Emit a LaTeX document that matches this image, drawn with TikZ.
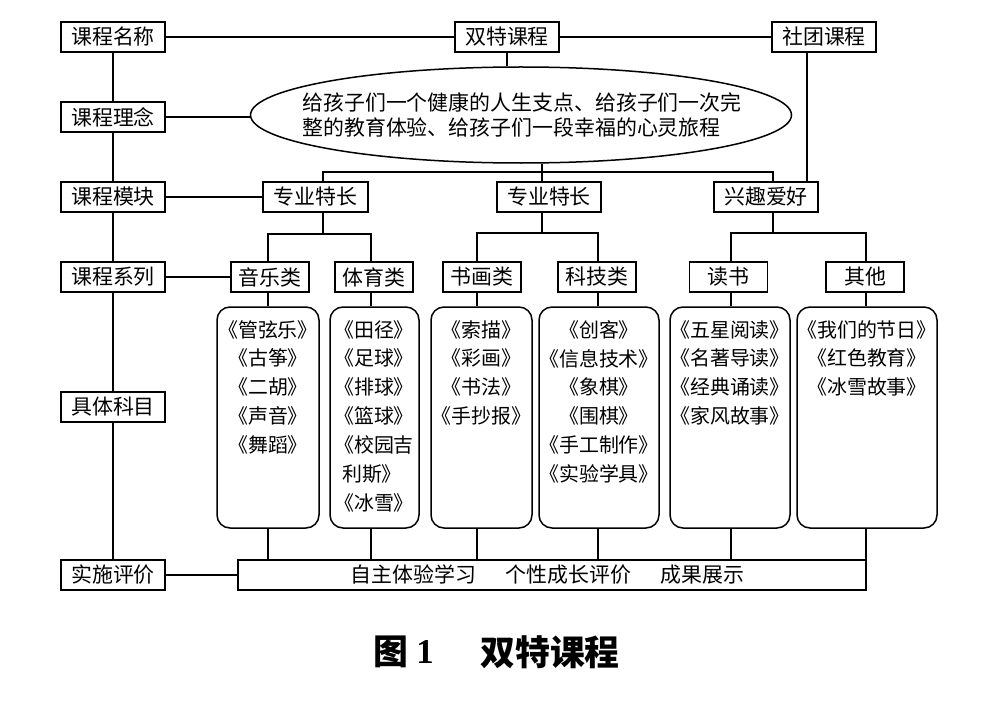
\documentclass[tikz,border=0pt]{standalone}
\usepackage{fontspec}
\setmainfont{Noto Sans CJK SC}
\newfontfamily\serifnum{Liberation Serif}
\usetikzlibrary{shapes.geometric}
\begin{document}
\begin{tikzpicture}[x=1bp,y=-1bp,
  box/.style={draw,line width=1.5bp,minimum width=104bp,minimum height=30bp,inner sep=0pt,font=\fontsize{21}{25}\selectfont},
  sbox/.style={box,minimum width=78bp},
  rbox/.style={draw,line width=1.5bp,rounded corners=13bp,minimum height=221bp,inner sep=0pt},
  btext/.style={inner sep=0pt,anchor=north,font=\fontsize{20}{29}\selectfont,align=center},
  conn/.style={line width=1.3bp},
  captext/.style={inner sep=0pt,font=\fontsize{35}{40}\selectfont\bfseries}]
\useasboundingbox[fill=white] (0,0) rectangle (981,704);
% left column
\node[box] (name) at (113,37) {课程名称};
\node[box] (ideal) at (113,117) {课程理念};
\node[box] (module) at (113,197) {课程模块};
\node[box] (series) at (113,277) {课程系列};
\node[box] (subj) at (113,407) {具体科目};
\node[box] (eval) at (113,575) {实施评价};
% top row
\node[box] (shuangte) at (507,37) {双特课程};
\node[box] (shetuan) at (824,37) {社团课程};
% ellipse
\node[draw,ellipse,line width=1.5bp,minimum width=541bp,minimum height=96bp,inner sep=0pt] (ell) at (521,115) {};
\node[inner sep=0pt,align=left,font=\fontsize{21}{25}\selectfont] (elltext) at (522,115) {给孩子们一个健康的人生支点、给孩子们一次完\\整的教育体验、给孩子们一段幸福的心灵旅程};
% modules
\node[box,minimum width=105bp] (zy1) at (315.5,197) {专业特长};
\node[box] (zy2) at (549,197) {专业特长};
\node[box] (xq) at (766,197) {兴趣爱好};
% series
\node[sbox] (yinyue) at (270,277) {音乐类};
\node[sbox] (tiyu) at (374,277) {体育类};
\node[sbox] (shuhua) at (482,277) {书画类};
\node[sbox] (keji) at (597,277) {科技类};
\node[sbox] (dushu) at (728.5,277) {读书};
\node[sbox] (qita) at (865,277) {其他};
% rounded boxes
\node[rbox,minimum width=102bp] (r1) at (268,417.5) {};
\node[rbox,minimum width=89bp] (r2) at (374.5,417.5) {};
\node[rbox,minimum width=101bp] (r3) at (481.5,417.5) {};
\node[rbox,minimum width=120bp] (r4) at (599,417.5) {};
\node[rbox,minimum width=120bp] (r5) at (730,417.5) {};
\node[rbox,minimum width=140bp] (r6) at (867,417.5) {};
\node[btext] (t1) at (268,320) {《管弦乐》\\《古筝》\\《二胡》\\《声音》\\《舞蹈》};
\node[btext,align=left] (t2) at (374,320) {《田径》\\《足球》\\《排球》\\《篮球》\\《校园吉\\\hspace*{0.4em}利斯》\\《冰雪》};
\node[btext] (t3) at (481.5,320) {《索描》\\《彩画》\\《书法》\\《手抄报》};
\node[btext] (t4) at (599,320) {《创客》\\《信息技术》\\《象棋》\\《围棋》\\《手工制作》\\《实验学具》};
\node[btext] (t5) at (730,320) {《五星阅读》\\《名著导读》\\《经典诵读》\\《家风故事》};
\node[btext] (t6) at (867,320) {《我们的节日》\\《红色教育》\\《冰雪故事》};
% evaluation bar
\node[draw,line width=1.5bp,minimum width=628bp,minimum height=30bp,inner sep=0pt] (bar) at (552,575) {};
\node[inner sep=0pt,font=\fontsize{21}{25}\selectfont] (bartext) at (547.5,575) {自主体验学习\hspace{1.4em}个性成长评价\hspace{1.4em}成果展示};
% caption
\node[captext] (cap1) at (391,652) {图};
\node[captext,font=\serifnum\fontsize{35}{40}\selectfont\bfseries] (cap2) at (425,652) {1};
\node[captext] (cap3) at (550,652) {双特课程};
% coordinates
\coordinate (b1) at (323,172);
\coordinate (b2) at (542,172);
\coordinate (b3) at (773,172);
\coordinate (st) at (807,120);
\coordinate (j1) at (323,234);
\coordinate (j2) at (542,233);
\coordinate (j3) at (773,233);
\coordinate (c1) at (268,0);
\coordinate (c2) at (371,0);
\coordinate (c3) at (477,0);
\coordinate (c4) at (598,0);
\coordinate (c5) at (731,0);
\coordinate (c6) at (866,0);
% connectors
\begin{scope}[conn]
\draw (name.east) -- (shuangte.west);
\draw (shuangte.east) -- (shetuan.west);
\draw (name.south) -- (ideal.north);
\draw (ideal.south) -- (module.north);
\draw (module.south) -- (series.north);
\draw (series.south) -- (subj.north);
\draw (subj.south) -- (eval.north);
\draw (ideal.east) -- (ell.west |- ideal.east);
\draw (module.east) -- (zy1.west);
\draw (series.east) -- (yinyue.west);
\draw (eval.east) -- (bar.west);
\draw (shuangte.south) -- (shuangte.south |- ell.north);
\draw (ell.south -| b2) -- (zy2.north -| b2);
\draw (zy1.north -| b1) -- (b1) -- (b3) -- (xq.north -| b3);
\draw (shetuan.south -| st) -- (xq.north -| st);
\draw (zy1.south -| j1) -- (j1);
\draw (yinyue.north -| c1) -- (c1 |- j1) -- (c2 |- j1) -- (tiyu.north -| c2);
\draw (zy2.south -| j2) -- (j2);
\draw (shuhua.north -| c3) -- (c3 |- j2) -- (c4 |- j2) -- (keji.north -| c4);
\draw (xq.south -| j3) -- (j3);
\draw (dushu.north -| c5) -- (c5 |- j3) -- (c6 |- j3) -- (qita.north -| c6);
\draw (yinyue.south -| c1) -- (r1.north -| c1);
\draw (tiyu.south -| c2) -- (r2.north -| c2);
\draw (shuhua.south -| c3) -- (r3.north -| c3);
\draw (keji.south -| c4) -- (r4.north -| c4);
\draw (dushu.south -| c5) -- (r5.north -| c5);
\draw (qita.south -| c6) -- (r6.north -| c6);
\draw (r1.south -| c1) -- (bar.north -| c1);
\draw (r2.south -| c2) -- (bar.north -| c2);
\draw (r3.south -| c3) -- (bar.north -| c3);
\draw (r4.south -| c4) -- (bar.north -| c4);
\draw (r5.south -| c5) -- (bar.north -| c5);
\draw (r6.south -| c6) -- (bar.north -| c6);
\end{scope}
\end{tikzpicture}
\end{document}
